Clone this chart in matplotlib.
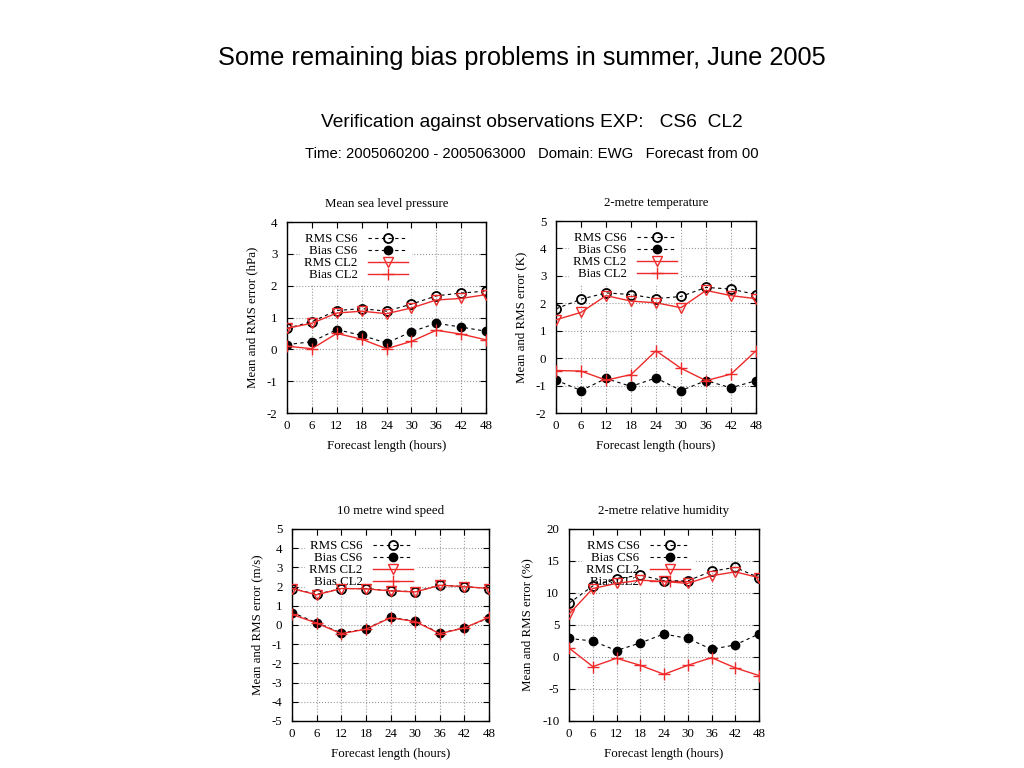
import matplotlib.pyplot as plt

plt.rcParams['font.family'] = ['Liberation Serif', 'DejaVu Serif']
plt.rcParams['axes.unicode_minus'] = False

# forecast lengths (hours)
hours = [0, 6, 12, 18, 24, 30, 36, 42, 48]

# Mean sea level pressure (hPa)
mslp_rms_cs6 = [0.66, 0.87, 1.22, 1.28, 1.20, 1.42, 1.68, 1.77, 1.83]
mslp_bias_cs6 = [0.15, 0.24, 0.62, 0.44, 0.20, 0.55, 0.82, 0.70, 0.57]
mslp_rms_cl2 = [0.66, 0.82, 1.14, 1.20, 1.12, 1.30, 1.55, 1.60, 1.72]
mslp_bias_cl2 = [0.10, 0.02, 0.50, 0.32, 0.02, 0.25, 0.60, 0.48, 0.30]

# 2-metre temperature (K)
t2m_rms_cs6 = [1.80, 2.15, 2.38, 2.32, 2.17, 2.25, 2.58, 2.52, 2.32]
t2m_bias_cs6 = [-0.80, -1.18, -0.74, -1.03, -0.72, -1.18, -0.82, -1.08, -0.82]
t2m_rms_cl2 = [1.40, 1.67, 2.28, 2.08, 2.02, 1.84, 2.47, 2.28, 2.17]
t2m_bias_cl2 = [-0.45, -0.47, -0.80, -0.60, 0.27, -0.37, -0.82, -0.58, 0.27]

# 10 metre wind speed (m/s)
ws_rms_cs6 = [1.90, 1.60, 1.90, 1.90, 1.78, 1.74, 2.07, 2.00, 1.90]
ws_bias_cs6 = [0.65, 0.12, -0.42, -0.20, 0.40, 0.20, -0.42, -0.15, 0.37]
ws_rms_cl2 = [1.90, 1.57, 1.90, 1.88, 1.78, 1.72, 2.07, 2.00, 1.90]
ws_bias_cl2 = [0.55, 0.10, -0.45, -0.22, 0.38, 0.18, -0.45, -0.15, 0.40]

# 2-metre relative humidity (%)
rh_rms_cs6 = [8.4, 11.1, 12.2, 12.8, 11.9, 11.9, 13.4, 14.0, 12.4]
rh_bias_cs6 = [2.9, 2.5, 1.0, 2.2, 3.6, 2.9, 1.2, 1.9, 3.6]
rh_rms_cl2 = [6.7, 10.7, 11.5, 12.0, 11.8, 11.5, 12.7, 13.3, 12.4]
rh_bias_cl2 = [1.4, -1.5, -0.2, -1.3, -2.7, -1.3, -0.1, -1.7, -2.9]

panels = [
    ("Mean sea level pressure", "Mean and RMS error (hPa)", (-2, 4), 1,
     mslp_rms_cs6, mslp_bias_cs6, mslp_rms_cl2, mslp_bias_cl2,
     [0.2803, 0.4622, 0.1943, 0.2487]),
    ("2-metre temperature", "Mean and RMS error (K)", (-2, 5), 1,
     t2m_rms_cs6, t2m_bias_cs6, t2m_rms_cl2, t2m_bias_cl2,
     [0.5430, 0.4622, 0.1953, 0.2500]),
    ("10 metre wind speed", "Mean and RMS error (m/s)", (-5, 5), 1,
     ws_rms_cs6, ws_bias_cs6, ws_rms_cl2, ws_bias_cl2,
     [0.2852, 0.0612, 0.1924, 0.2500]),
    ("2-metre relative humidity", "Mean and RMS error (%)", (-10, 20), 5,
     rh_rms_cs6, rh_bias_cs6, rh_rms_cl2, rh_bias_cl2,
     [0.5557, 0.0612, 0.1855, 0.2500]),
]

red = '#ee2a2a'
fs = 9.3

fig = plt.figure(figsize=(10.24, 7.68), dpi=100)

fig.text(0.51, 0.924, "Some remaining bias problems in summer, June 2005",
         ha='center', va='center', fontsize=18.3, family='Liberation Sans')
fig.text(0.519, 0.841, "Verification against observations EXP:   CS6  CL2",
         ha='center', va='center', fontsize=13.8, family='Liberation Sans')
fig.text(0.519, 0.799, "Time: 2005060200 - 2005063000   Domain: EWG   Forecast from 00",
         ha='center', va='center', fontsize=10.7, family='Liberation Sans')

for title, ylab, ylim, ystep, rms6, bias6, rmsl2, biasl2, pos in panels:
    ax = fig.add_axes(pos)
    ax.plot(hours, rms6, ls=(0, (3, 3)), color='black', lw=0.8, marker='o',
            ms=6.5, mfc='none', mec='black', mew=1.3, label='RMS CS6', zorder=3)
    ax.plot(hours, bias6, ls=(0, (3, 3)), color='black', lw=0.8, marker='o',
            ms=6, mfc='black', mec='black', label='Bias CS6', zorder=3)
    ax.plot(hours, rmsl2, ls='-', color=red, lw=1.0, marker='v',
            ms=7, mfc='none', mec=red, mew=1.0, label='RMS CL2', zorder=4)
    ax.plot(hours, biasl2, ls='-', color=red, lw=1.0, marker='+',
            ms=8, mec=red, mew=1.0, label='Bias CL2', zorder=4)

    ax.set_xlim(0, 48)
    ax.set_ylim(*ylim)
    ax.set_xticks(hours)
    ax.set_yticks(range(ylim[0], ylim[1] + 1, ystep))
    ax.grid(True, color='#999999', ls=':', lw=0.8)
    ax.tick_params(direction='in', top=True, right=True, labelsize=fs,
                   length=4, pad=5)
    ax.tick_params(axis='y', pad=7)
    for s in ax.spines.values():
        s.set_linewidth(1.0)
    ax.set_title(title, fontsize=fs, pad=11)
    ax.set_xlabel("Forecast length (hours)", fontsize=fs, labelpad=6)
    ax.set_ylabel(ylab, fontsize=fs, labelpad=6)

    leg = ax.legend(loc='upper left', bbox_to_anchor=(0.035, 0.995),
                    fontsize=fs, markerfirst=False, handlelength=3.1,
                    handletextpad=0.8, labelspacing=0.0, borderpad=0.3,
                    frameon=True, fancybox=False, framealpha=1.0,
                    edgecolor='none', facecolor='white', alignment='right')
    leg.set_zorder(2.5)
    for t in leg.get_texts():
        t.set_ha('right')

fig.savefig('out.png', dpi=100)
